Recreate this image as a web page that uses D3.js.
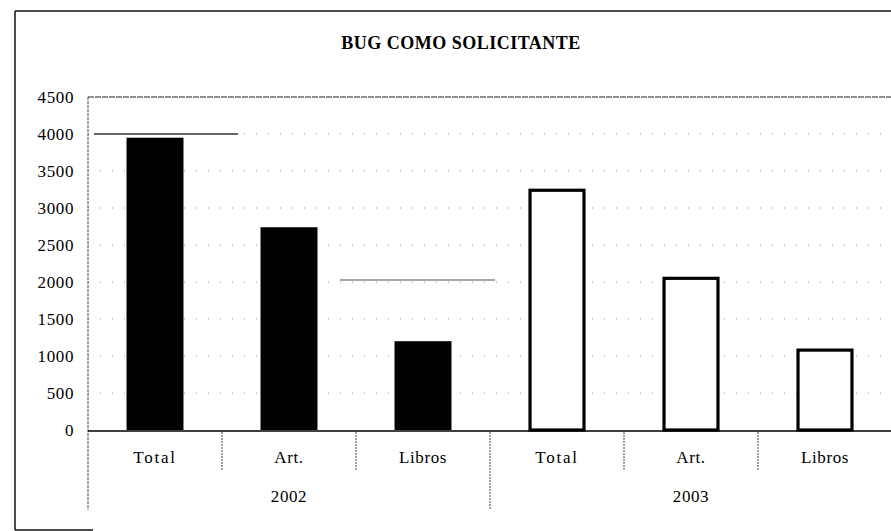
<!DOCTYPE html>
<html>
<head>
<meta charset="utf-8">
<script src="https://cdn.jsdelivr.net/npm/d3@7/dist/d3.min.js"></script>
<style>
  body { margin: 0; background: #fff; }
  svg { display: block; }
  svg text { font-family: "Liberation Serif", "Times New Roman", Times, serif; }
</style>
</head>
<body>
<div id="chart"></div>
<script>
// datos
var years = ["2002", "2003"];
var categories = ["Total", "Art.", "Libros"];
var values2002 = [3950, 2740, 1200];
var values2003 = [3260, 2070, 1100];
var yTicks = [0, 500, 1000, 1500, 2000, 2500, 3000, 3500, 4000, 4500];

var width = 891;
var height = 531;
var margin = { top: 97, left: 88 };

var svg = d3.select("#chart")
            .append("svg")
            .attr("width", width)
            .attr("height", height);

// filas: una por barra
var rows = [];
years.forEach(function(y, i) {
    var vals = i == 0 ? values2002 : values2003;
    categories.forEach(function(c, j) {
        rows.push({ key: y + "-" + c, year: y, cat: c, value: vals[j] });
    });
});

var x = d3.scaleBand()
          .domain(rows.map(function(d) { return d.key }))
          .range([margin.left, margin.left + 134 * 6])
          .paddingInner(0.575)
          .paddingOuter(0.2875);

var xBand = d3.scaleBand()
              .domain(rows.map(function(d) { return d.key }))
              .range([margin.left, margin.left + 134 * 6]);

var y = d3.scaleLinear()
          .domain([0, 4500])
          .range([430, margin.top]);

// marco exterior
svg.append("g")
   .attr("stroke", "#111")
   .attr("stroke-width", 1.5)
   .call(function(g) {
       g.append("line").attr("x1", 15).attr("x2", width).attr("y1", 11).attr("y2", 11);
       g.append("line").attr("x1", 15).attr("x2", 15).attr("y1", 11).attr("y2", 530);
       g.append("line").attr("x1", 15).attr("x2", 93).attr("y1", 530).attr("y2", 530);
   });

// titulo
svg.append("text")
   .attr("x", 461)
   .attr("y", 49)
   .attr("text-anchor", "middle")
   .attr("font-weight", "bold")
   .attr("font-size", 18)
   .attr("letter-spacing", 0.5)
   .text("BUG COMO SOLICITANTE");

// lineas de rejilla punteadas
svg.append("g")
   .selectAll("line")
   .data(yTicks.filter(function(t) { return t > 0 && t < 4500 }))
   .enter()
   .append("line")
   .attr("x1", margin.left)
   .attr("x2", width)
   .attr("y1", function(d) { return y(d) })
   .attr("y2", function(d) { return y(d) })
   .attr("stroke", "#999")
   .attr("stroke-width", 1)
   .attr("stroke-dasharray", "1,11");

// linea superior (4500)
svg.append("line")
   .attr("x1", margin.left)
   .attr("x2", width)
   .attr("y1", y(4500))
   .attr("y2", y(4500))
   .attr("stroke", "#222")
   .attr("stroke-width", 1.2)
   .attr("stroke-dasharray", "6,1");

// trazos sueltos que aparecen en la imagen
svg.append("line")
   .attr("x1", margin.left + 6)
   .attr("x2", 238)
   .attr("y1", y(4000))
   .attr("y2", y(4000))
   .attr("stroke", "#333")
   .attr("stroke-width", 1.3);
svg.append("line")
   .attr("x1", 340)
   .attr("x2", 495)
   .attr("y1", y(2000) - 2)
   .attr("y2", y(2000) - 2)
   .attr("stroke", "#555")
   .attr("stroke-width", 1.2);

// eje y
svg.append("line")
   .attr("x1", margin.left)
   .attr("x2", margin.left)
   .attr("y1", y(4500))
   .attr("y2", 510)
   .attr("stroke", "#444")
   .attr("stroke-width", 1)
   .attr("stroke-dasharray", "3,1");

svg.append("g")
   .selectAll("text")
   .data(yTicks)
   .enter()
   .append("text")
   .attr("x", 74)
   .attr("y", function(d) { return y(d) + 6 })
   .attr("text-anchor", "end")
   .attr("font-size", 17)
   .attr("letter-spacing", 0.6)
   .text(function(d) { return d });

// barras
svg.append("g")
   .selectAll("rect")
   .data(rows)
   .enter()
   .append("rect")
   .attr("x", function(d) { return d.year == "2002" ? x(d.key) : x(d.key) + 1.5 })
   .attr("y", function(d) { return d.year == "2002" ? y(d.value) : y(d.value) + 1.5 })
   .attr("width", function(d) { return d.year == "2002" ? x.bandwidth() : x.bandwidth() - 3 })
   .attr("height", function(d) { return d.year == "2002" ? y(0) - y(d.value) : y(0) - y(d.value) - 1.5 })
   .attr("fill", function(d) { return d.year == "2002" ? "#000" : "#fff" })
   .attr("stroke", "#000")
   .attr("stroke-width", function(d) { return d.year == "2002" ? 0 : 3.2 });

// eje x
svg.append("line")
   .attr("x1", margin.left)
   .attr("x2", width)
   .attr("y1", y(0) + 1)
   .attr("y2", y(0) + 1)
   .attr("stroke", "#000")
   .attr("stroke-width", 1.6);

// separadores de categorias
var seps = rows.map(function(d, i) { return { x: xBand(d.key) + xBand.bandwidth(), group: (i + 1) % 3 == 0 } });
svg.append("g")
   .selectAll("line")
   .data(seps)
   .enter()
   .append("line")
   .attr("x1", function(d) { return d.x })
   .attr("x2", function(d) { return d.x })
   .attr("y1", y(0) + 2)
   .attr("y2", function(d) { return d.group ? 510 : 470 })
   .attr("stroke", "#444")
   .attr("stroke-width", 1)
   .attr("stroke-dasharray", "2,1");

// etiquetas de categoria
svg.append("g")
   .selectAll("text")
   .data(rows)
   .enter()
   .append("text")
   .attr("x", function(d) { return xBand(d.key) + xBand.bandwidth() / 2 })
   .attr("y", 463)
   .attr("text-anchor", "middle")
   .attr("font-size", 17)
   .attr("letter-spacing", function(d) { return d.cat == "Total" ? 1.8 : 0.6 })
   .text(function(d) { return d.cat });

// etiquetas de anio
svg.append("g")
   .selectAll("text")
   .data(years)
   .enter()
   .append("text")
   .attr("x", function(d) {
       var first = xBand(d + "-" + categories[0]);
       return first + xBand.bandwidth() * 1.5;
   })
   .attr("y", 502)
   .attr("text-anchor", "middle")
   .attr("font-size", 17)
   .attr("letter-spacing", 0.6)
   .text(function(d) { return d });
</script>
</body>
</html>
